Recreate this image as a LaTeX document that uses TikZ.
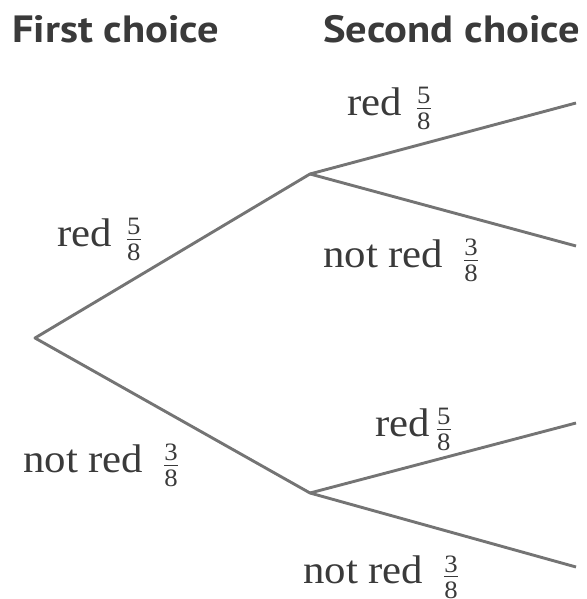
\documentclass[tikz,border=0pt]{standalone}
\usepackage{fontspec}
\setmainfont{Liberation Serif}[FakeStretch=1.07]
\newfontfamily\headfont{PT Sans}[FakeStretch=1.12]
\definecolor{txt}{HTML}{3A3A3A}
\definecolor{branch}{HTML}{747474}
\newcommand\fr[2]{{\fontsize{25}{25}\selectfont
  \raisebox{12pt}{\makebox[0pt][l]{\makebox[0.55em]{#1}}}%
  \raisebox{7pt}{\rule{0.55em}{0.9pt}}\hspace{-0.55em}%
  \raisebox{-14pt}{\makebox[0.55em]{#2}}}}
\begin{document}
\begin{tikzpicture}[x=1pt,y=1pt,
  branchline/.style={draw=branch,line width=2.9pt,line join=round},
  lbl/.style={text=txt,font=\fontsize{40}{42}\selectfont,inner sep=0pt,anchor=base west},
  head/.style={text=txt,font=\headfont\bfseries\fontsize{38}{40}\selectfont,inner sep=0pt,anchor=base west}]
\useasboundingbox (0,0) rectangle (586,599);
% nodes (y = 599 - image y)
\coordinate (root) at (35,261);
\coordinate (up) at (310,425);
\coordinate (lo) at (310,106);
\coordinate (e1) at (576,496);
\coordinate (e2) at (576,353);
\coordinate (e3) at (576,176);
\coordinate (e4) at (576,32);
\draw[branchline] (e1) -- (up) -- (root) -- (lo) -- (e4);
\draw[branchline] (up) -- (e2);
\draw[branchline] (lo) -- (e3);
% headings
\node[head] (h1) at (12,556) {First choice};
\node[head] (h2) at (323,556) {Second choice};
% labels
\node[lbl] (l1) at (57,352) {red\hspace{15pt}\fr{5}{8}};
\node[lbl] (l2) at (23,126) {not red\hspace{21pt}\fr{3}{8}};
\node[lbl] (l3) at (347,483) {red\hspace{15pt}\fr{5}{8}};
\node[lbl] (l4) at (323,331) {not red\hspace{21pt}\fr{3}{8}};
\node[lbl] (l5) at (375,162) {red\hspace{7pt}\fr{5}{8}};
\node[lbl] (l6) at (303,15) {not red\hspace{21pt}\fr{3}{8}};
\end{tikzpicture}
\end{document}
